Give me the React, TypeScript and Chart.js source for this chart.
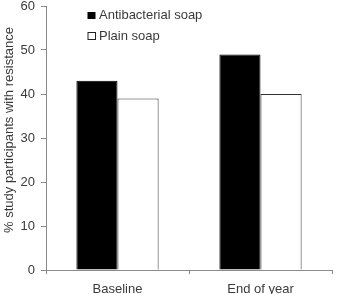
import React, { useEffect, useRef } from "react";
import { Chart, registerables } from "chart.js";

Chart.register(...registerables);

const categories = ["Baseline", "End of year"];
const antibacterial = [43, 49];
const plain = [39, 40];
const seriesNames = ["Antibacterial soap", "Plain soap"];
const yTitle = "% study participants with resistance";

const FONT = "'Liberation Sans', Arial, Helvetica, sans-serif";
const TEXT = "#3a3a3a";
const AXIS = "#8a8a8a";

const overlay = {
  id: "overlay",
  afterDraw(chart: any) {
    const ctx = chart.ctx;
    ctx.save();
    // legend
    ctx.font = `13px ${FONT}`;
    ctx.textBaseline = "alphabetic";
    ctx.textAlign = "left";
    const lx = 87.5;
    ctx.fillStyle = "#000";
    ctx.fillRect(lx, 12, 8, 7);
    ctx.fillStyle = TEXT;
    ctx.fillText(seriesNames[0], 99, 18.5);
    ctx.fillStyle = "#fff";
    ctx.fillRect(lx, 32.5, 8, 7);
    ctx.strokeStyle = "#222";
    ctx.lineWidth = 1;
    ctx.strokeRect(lx + 0.5, 32.5, 7.5, 7);
    ctx.fillStyle = TEXT;
    ctx.fillText(seriesNames[1], 99, 39.5);
    // y title
    ctx.translate(9, 130);
    ctx.rotate(-Math.PI / 2);
    ctx.textAlign = "center";
    ctx.textBaseline = "middle";
    ctx.fillText(yTitle, 0, 0);
    ctx.restore();
  },
};

export default function App() {
  const ref = useRef<HTMLCanvasElement>(null);
  useEffect(() => {
    const chart = new Chart(ref.current!, {
      type: "bar",
      data: {
        labels: categories,
        datasets: [
          {
            label: seriesNames[0],
            data: antibacterial,
            backgroundColor: "#000",
            borderColor: "#000",
            borderWidth: 1,
            barPercentage: 1,
            categoryPercentage: 0.575,
          },
          {
            label: seriesNames[1],
            data: plain,
            backgroundColor: "#fff",
            borderColor: "#333",
            borderWidth: 1,
            barPercentage: 1,
            categoryPercentage: 0.575,
          },
        ],
      },
      options: {
        responsive: false,
        animation: false,
        devicePixelRatio: 1,
        layout: { padding: { top: 6, right: 6, left: 0, bottom: 0 } },
        plugins: {
          legend: { display: false },
          tooltip: { enabled: false },
          title: { display: false },
        },
        scales: {
          x: {
            grid: {
              display: true,
              drawOnChartArea: false,
              drawTicks: true,
              tickLength: 4,
              color: AXIS,
              offset: true,
            },
            border: { display: true, color: AXIS, width: 1 },
            ticks: {
              color: TEXT,
              font: { family: FONT, size: 13 },
              padding: 8,
              maxRotation: 0,
            },
            afterFit(scale: any) {
              scale.height = 24;
            },
          },
          y: {
            min: 0,
            max: 60,
            grid: {
              display: true,
              drawOnChartArea: false,
              drawTicks: true,
              tickLength: 5,
              color: AXIS,
            },
            border: { display: true, color: AXIS, width: 1 },
            ticks: {
              stepSize: 10,
              color: TEXT,
              font: { family: FONT, size: 13 },
              padding: 6,
            },
            afterFit(scale: any) {
              scale.width = 46;
              scale.paddingTop = 0;
              scale.paddingBottom = 0;
            },
          },
        },
      },
      plugins: [overlay],
    });
    return () => chart.destroy();
  }, []);
  return (
    <div style={{ position: "fixed", left: 0, top: 0, width: 338, height: 294, background: "#fff" }}>
      <canvas ref={ref} width={338} height={294} style={{ display: "block" }} />
    </div>
  );
}
